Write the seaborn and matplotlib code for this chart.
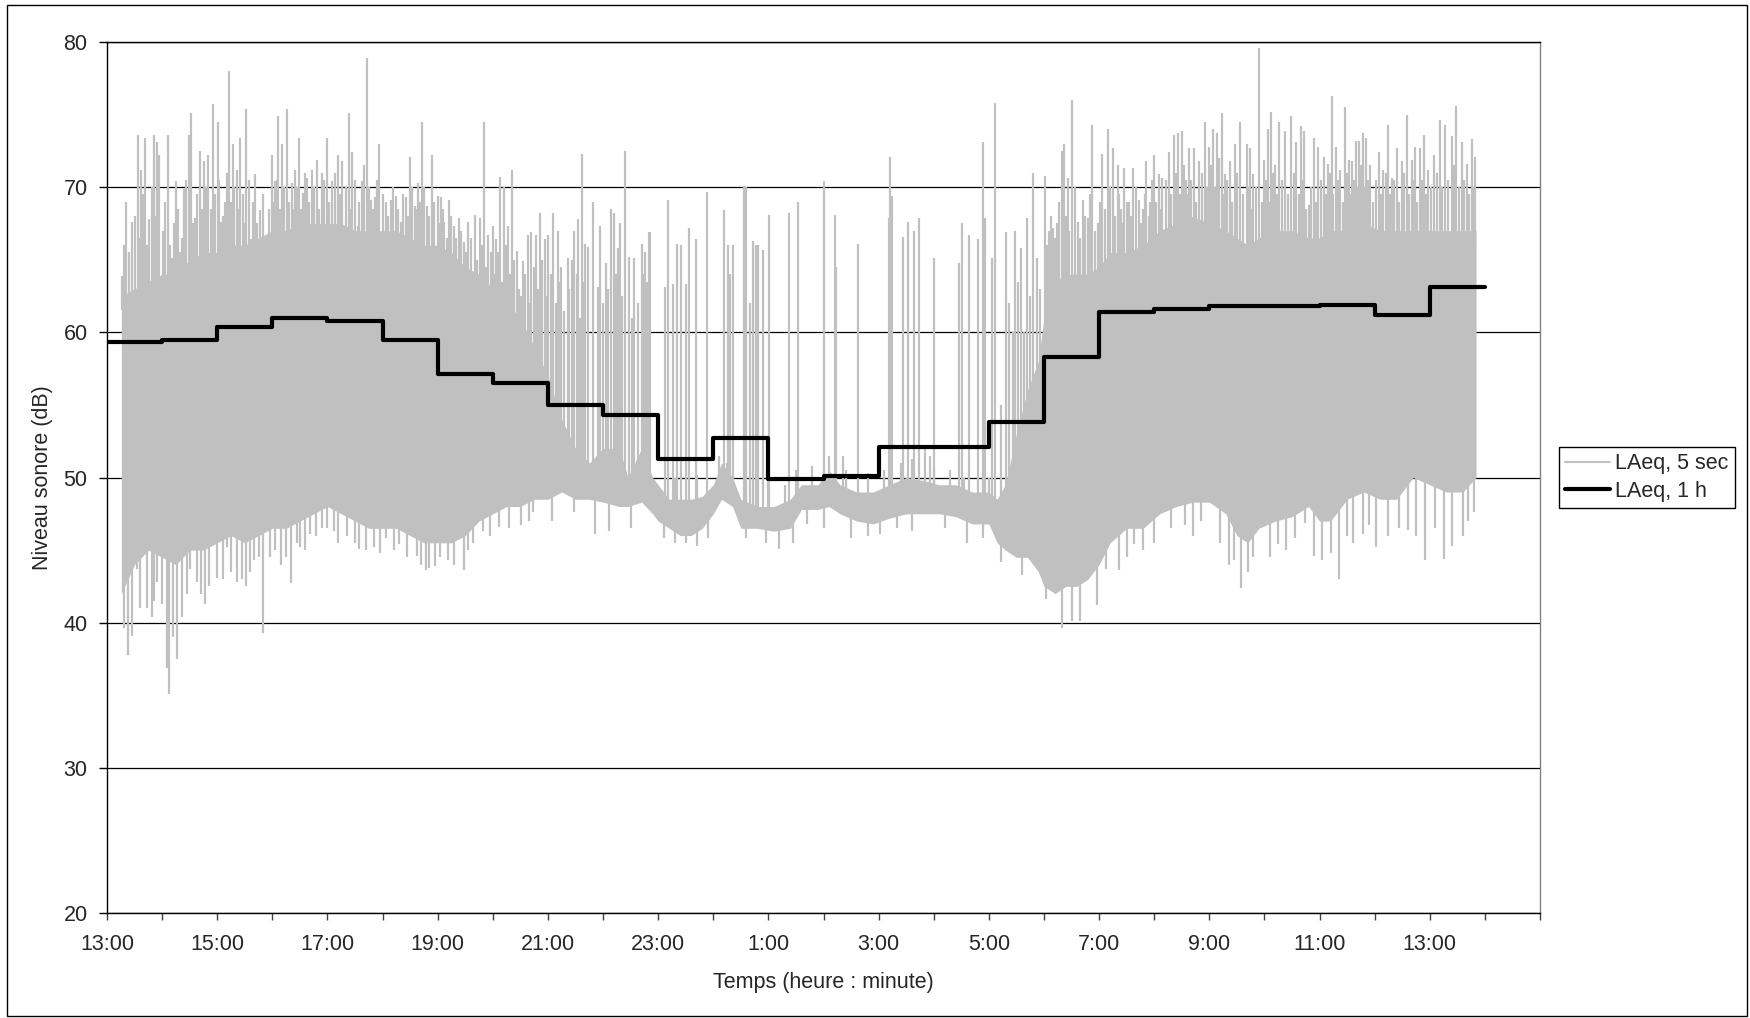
import numpy as np
import matplotlib.pyplot as plt
from matplotlib.lines import Line2D
from matplotlib.patches import Rectangle
import seaborn as sns

# ---------------------------------------------------------------
# Data (hours counted from 13:00 on day one)
# ---------------------------------------------------------------

# LAeq over 1 h, one value per hour starting 13:00
hour_start = list(range(25))
laeq_1h = [59.3, 59.5, 60.4, 61.0, 60.8, 59.5, 57.1, 56.5, 55.0, 54.3,
           51.3, 52.7, 49.9, 50.1, 52.1, 52.1, 53.8, 58.3, 61.4, 61.6,
           61.8, 61.8, 61.9, 61.2, 63.1]

# LAeq over 5 s: dense body of the trace (upper / lower edge)
body_t = [0.26, 0.5, 0.75, 1.0, 1.25, 1.5, 1.75, 2.0, 2.25, 2.5, 2.75, 3.0, 3.25, 3.5, 3.75, 4.0, 4.25,
          4.5, 4.75, 5.0, 5.25, 5.5, 5.75, 6.0, 6.25, 6.5, 6.75, 7.0, 7.25, 7.5, 7.75, 8.0, 8.25, 8.5, 8.75,
          9.0, 9.3, 9.45, 9.7, 9.9, 10.0, 10.2, 10.4, 10.6, 10.8, 11.0, 11.15, 11.35, 11.5, 11.8,
          12.1, 12.4, 12.6, 12.9, 13.1, 13.3, 13.6, 13.9, 14.2, 14.5, 14.8, 15.1, 15.4, 15.7,
          16.0, 16.15, 16.3, 16.5, 16.7, 16.9, 17.0, 17.2, 17.4, 17.6, 17.8, 18.0, 18.2, 18.5, 18.8,
          19.1, 19.4, 19.7, 20.0, 20.3, 20.5, 20.7, 20.9, 21.2, 21.5, 21.8, 22.0, 22.2, 22.5, 22.8,
          23.1, 23.4, 23.7, 24.0, 24.3, 24.6, 24.84]
body_hi = [62.5, 63, 63.5, 64, 64, 65, 65.5, 65.5, 66, 66, 66.5, 67, 67, 67.5, 67.5, 67.5, 67.5,
           67, 67, 67, 67, 66.5, 66, 66, 65.5, 64.5, 64, 63, 62, 61, 59, 57, 54, 52, 51,
           52, 52, 50, 52, 50, 49.5, 48.5, 48.5, 48.5, 48.7, 49.5, 51, 50, 48.5, 48,
           48, 48.5, 49.5, 49.5, 50.5, 49.5, 49, 49, 49.5, 50, 49.8, 49.5, 49.5, 49,
           49, 48.5, 49.5, 53, 56, 58, 61, 63.5, 64, 64, 64, 64.5, 65.5, 65.5, 66,
           67, 67.5, 68, 67.5, 67, 66.5, 66, 66.5, 67, 67, 66.5, 66.5, 67, 67, 67.5,
           67, 67, 67, 67, 67, 67, 67]
body_lo = [42, 44, 45, 44.5, 44, 45, 45, 45.5, 46, 45.5, 46, 46.5, 46.5, 47, 47.5, 48, 47.5,
           47, 46.5, 46.5, 46.5, 46, 45.5, 45.5, 45.5, 46, 47, 47.5, 48, 48, 48.5, 48.5, 49, 48.5, 48.5,
           48.3, 48, 48, 48.3, 47.5, 47, 46.5, 46, 46, 46.5, 47.5, 48.5, 48, 46.5, 46.5,
           46.3, 46.5, 47.8, 47.8, 48, 47.5, 47, 46.8, 47.2, 47.5, 47.5, 47.5, 47.3, 46.8,
           46.8, 45.5, 45, 44.5, 44.5, 43.5, 42.5, 42, 42.5, 42.5, 43, 44, 45.5, 46.5, 46.5,
           47.5, 48, 48.3, 48.3, 47.5, 46, 45.5, 46.5, 47, 47.3, 48, 47, 47, 48.5, 49,
           48.5, 48.5, 50, 49.5, 49, 49, 50]

# LAeq over 5 s: tall individual peaks
peak_t = [0.28, 0.35, 0.46, 0.57, 0.61, 0.69, 0.77, 0.85, 0.90, 0.95, 1.10, 1.18, 1.25, 1.33, 1.40,
          1.48, 1.53, 1.60, 1.69, 1.76, 1.84, 1.92, 2.01, 2.07, 2.15, 2.22, 2.28, 2.35, 2.41, 2.53,
          2.61, 2.69, 2.78, 2.89, 2.99, 3.05, 3.10, 3.18, 3.27, 3.36, 3.42, 3.48, 3.56, 3.63, 3.72,
          3.81, 3.90, 3.99, 4.08, 4.19, 4.27, 4.39, 4.45, 4.55, 4.62, 4.71, 4.79, 4.87, 4.94, 5.06,
          5.15, 5.24, 5.33, 5.42, 5.50, 5.58, 5.64, 5.72, 5.80, 5.89, 6.00, 6.06, 6.12, 6.21, 6.30,
          6.39, 6.48, 6.55, 6.67, 6.76, 6.84, 6.91, 7.00, 7.06, 7.13, 7.21, 7.27, 7.35, 7.43, 7.55,
          7.64, 7.70, 7.79, 7.85, 7.94, 8.00, 8.10, 8.18, 8.24, 8.36, 8.43, 8.48, 8.55, 8.61, 8.68,
          8.72, 8.81, 8.91, 8.95, 9.00, 9.05, 9.09, 9.14, 9.20, 9.24, 9.27, 9.31, 9.35, 9.40, 9.48,
          9.52, 9.56, 9.64, 9.71, 9.74, 9.77, 9.80, 9.83, 9.86, 10.12, 10.17, 10.27, 10.35, 10.42, 10.51,
          10.56, 10.69, 10.89, 11.19, 11.27, 11.31, 11.36, 11.55, 11.59, 11.66, 11.72, 11.77, 11.82, 11.90, 12.01,
          12.38, 12.54, 13.01, 13.20, 13.23, 13.35, 13.62, 14.18, 14.21, 14.25, 14.45, 14.54, 14.64, 14.73, 14.85,
          14.93, 15.01, 15.46, 15.52, 15.64, 15.81, 15.90, 15.93, 16.06, 16.12, 16.22, 16.31, 16.36, 16.43, 16.47,
          16.52, 16.59, 16.63, 16.69, 16.75, 16.81, 16.88, 16.93, 17.02, 17.10, 17.16, 17.23, 17.33, 17.37, 17.43,
          17.50, 17.62, 17.70, 17.80, 17.87, 17.98, 18.06, 18.16, 18.25, 18.34, 18.40, 18.46, 18.54, 18.62, 18.73,
          18.80, 18.86, 18.93, 19.00, 19.08, 19.15, 19.27, 19.36, 19.44, 19.51, 19.57, 19.63, 19.72, 19.81, 19.92,
          19.99, 20.07, 20.14, 20.23, 20.29, 20.38, 20.47, 20.56, 20.68, 20.74, 20.80, 20.91, 21.00, 21.06, 21.12,
          21.19, 21.26, 21.37, 21.49, 21.58, 21.66, 21.72, 21.80, 21.90, 21.98, 22.08, 22.16, 22.22, 22.29, 22.38,
          22.47, 22.53, 22.59, 22.66, 22.72, 22.79, 22.85, 22.92, 23.07, 23.16, 23.24, 23.31, 23.40, 23.49, 23.58,
          23.67, 23.73, 23.82, 23.90, 23.97, 24.07, 24.19, 24.27, 24.40, 24.48, 24.58, 24.68, 24.77, 24.82]
peak_db = [63.9, 69.0, 67.6, 73.6, 71.2, 73.4, 67.8, 73.6, 73.1, 72.2, 73.6, 65.1, 70.4, 65.5, 69.9,
           73.6, 75.1, 67.9, 72.5, 71.8, 72.2, 75.7, 74.5, 67.6, 69.0, 78.0, 73.0, 71.2, 73.4, 75.4,
           66.4, 70.9, 68.4, 66.5, 72.2, 70.4, 74.9, 73.0, 75.4, 70.3, 71.2, 73.4, 69.6, 70.6, 71.2,
           71.9, 71.0, 73.4, 70.4, 72.2, 71.8, 75.1, 72.4, 67.3, 70.4, 78.9, 69.1, 69.3, 73.0, 69.0,
           69.1, 69.4, 67.6, 69.3, 72.1, 68.7, 70.3, 74.5, 68.7, 72.2, 69.4, 69.3, 67.6, 69.1, 67.3,
           67.9, 66.2, 67.6, 68.1, 67.9, 74.5, 66.7, 67.3, 66.4, 70.7, 70.0, 67.3, 71.2, 65.6, 64.9,
           66.7, 66.9, 66.7, 68.2, 66.4, 66.7, 68.2, 67.0, 64.5, 65.1, 65.0, 67.0, 67.8, 72.3, 66.1,
           65.9, 69.0, 63.1, 67.3, 62.0, 64.8, 63.0, 68.5, 68.2, 64.0, 65.8, 67.5, 62.5, 72.5, 65.2,
           61.0, 65.1, 62.0, 66.1, 64.0, 65.5, 63.5, 66.9, 66.9, 63.1, 69.1, 63.3, 66.1, 66.0, 63.3,
           67.2, 66.4, 69.7, 68.4, 66.0, 64.0, 66.0, 70.1, 70.0, 62.0, 66.3, 66.0, 66.0, 65.7, 68.1,
           68.2, 69.0, 70.4, 68.1, 64.5, 51.5, 66.1, 67.9, 72.1, 69.4, 66.6, 67.6, 67.0, 67.9, 52.0,
           51.5, 65.1, 64.8, 67.5, 66.7, 66.4, 73.1, 67.9, 65.1, 75.8, 55.0, 66.9, 62.0, 60.0, 67.0,
           63.5, 65.8, 60.0, 67.9, 62.5, 71.0, 65.1, 63.0, 70.8, 67.0, 67.2, 67.5, 72.5, 73.0, 70.6,
           76.0, 67.6, 69.1, 67.9, 74.3, 67.5, 72.3, 74.0, 72.7, 71.5, 68.5, 71.3, 69.0, 71.3, 69.1,
           68.5, 71.8, 69.0, 72.2, 70.9, 70.6, 72.4, 73.6, 73.7, 73.9, 70.5, 72.7, 72.7, 71.8, 74.5,
           72.8, 74.0, 73.7, 75.1, 70.9, 71.8, 73.0, 74.5, 73.0, 72.7, 70.9, 79.6, 71.9, 74.0, 75.2,
           71.5, 74.5, 73.9, 74.9, 73.1, 74.2, 73.9, 68.8, 73.4, 72.8, 72.1, 71.6, 76.3, 72.8, 71.2,
           75.5, 71.9, 71.8, 73.2, 73.2, 73.7, 73.4, 71.5, 72.4, 71.2, 74.3, 70.6, 72.7, 71.8, 75.0,
           71.9, 72.8, 72.7, 73.6, 71.2, 72.2, 74.6, 74.3, 73.5, 75.6, 73.1, 71.6, 73.3, 72.1]

# LAeq over 5 s: shorter peaks (the "hair" above the dense body, small bumps at night)
hair_t = [0.31, 0.40, 0.51, 0.59, 0.65, 0.73, 0.81, 0.87, 0.93, 1.02, 1.06, 1.14, 1.21, 1.29, 1.36,
          1.44, 1.51, 1.56, 1.64, 1.72, 1.80, 1.88, 1.96, 2.04, 2.11, 2.18, 2.25, 2.31, 2.38, 2.46,
          2.50, 2.57, 2.65, 2.73, 2.83, 2.94, 3.02, 3.08, 3.14, 3.22, 3.31, 3.39, 3.45, 3.52, 3.59,
          3.67, 3.76, 3.85, 3.94, 4.03, 4.13, 4.23, 4.33, 4.42, 4.50, 4.58, 4.66, 4.75, 4.83, 4.90,
          5.00, 5.10, 5.19, 5.28, 5.37, 5.46, 5.54, 5.61, 5.68, 5.76, 5.85, 5.94, 6.03, 6.09, 6.16,
          6.25, 6.34, 6.43, 6.51, 6.60, 6.71, 6.80, 6.88, 6.96, 7.03, 7.10, 7.17, 7.24, 7.31, 7.39,
          7.48, 7.51, 7.59, 7.67, 7.74, 7.82, 7.89, 7.97, 8.05, 8.14, 8.21, 8.30, 8.39, 8.45, 8.52,
          8.58, 8.64,
          10.30, 10.70, 11.10, 11.25, 11.60, 12.00, 12.30, 12.50, 12.80, 13.10, 13.40, 13.80, 14.10, 14.40, 14.60,
          15.00, 15.30, 15.55, 15.90, 16.00,
          17.06, 17.13, 17.20, 17.28, 17.40, 17.46, 17.56, 17.66, 17.75, 17.84, 17.92, 18.02, 18.11, 18.20, 18.29,
          18.37, 18.43, 18.50, 18.58, 18.67, 18.76, 18.83, 18.90, 18.96, 19.04, 19.11, 19.21, 19.31, 19.40, 19.47,
          19.54, 19.60, 19.67, 19.76, 19.86, 19.95, 20.03, 20.10, 20.18, 20.26, 20.33, 20.42, 20.51, 20.62, 20.71,
          20.77, 20.85, 20.95, 21.03, 21.09, 21.16, 21.22, 21.31, 21.43, 21.54, 21.62, 21.69, 21.76, 21.85, 21.94,
          22.03, 22.12, 22.19, 22.25, 22.33, 22.42, 22.50, 22.56, 22.62, 22.69, 22.75, 22.82, 22.88, 22.97, 23.02,
          23.11, 23.20, 23.27, 23.35, 23.44, 23.53, 23.62, 23.70, 23.77, 23.86, 23.93, 24.02, 24.13, 24.23, 24.33,
          24.44, 24.53, 24.63, 24.72, 24.80]
hair_db = [66.0, 65.5, 68.0, 66.5, 69.5, 66.0, 70.0, 68.0, 66.5, 67.0, 69.0, 66.0, 67.5, 68.5, 66.5,
           70.5, 68.0, 67.5, 69.5, 68.5, 70.0, 68.5, 69.5, 70.5, 68.0, 71.0, 69.0, 70.0, 68.5, 69.5,
           67.5, 70.5, 69.0, 67.5, 69.5, 68.5, 69.0, 70.5, 68.5, 70.0, 69.0, 68.5, 70.0, 68.5, 71.0,
           69.0, 70.0, 68.5, 70.5, 69.0, 71.0, 69.5, 70.0, 68.5, 70.5, 69.0, 71.5, 70.0, 68.5, 70.5,
           69.5, 68.0, 70.0, 68.5, 69.5, 68.0, 70.0, 68.5, 69.0, 70.0, 68.0, 69.0, 67.5, 68.5, 66.5,
           68.0, 66.5, 67.0, 65.5, 66.5, 65.0, 66.0, 64.5, 65.5, 64.0, 65.5, 63.5, 66.0, 64.0, 65.0,
           63.0, 62.5, 64.0, 62.0, 64.5, 63.0, 65.0, 62.5, 64.0, 62.0, 63.5, 61.5, 63.0, 62.0, 64.0,
           61.0, 63.5,
           50.0, 50.2, 51.5, 51.0, 49.5, 49.8, 49.5, 50.5, 50.8, 51.5, 50.5, 50.3, 50.5, 51.0, 51.3,
           50.5, 50.5, 50.0, 49.8, 50.0,
           66.0, 68.0, 66.5, 69.0, 68.0, 67.0, 70.0, 66.5, 68.0, 69.5, 67.0, 69.0, 68.5, 70.0, 68.0,
           69.5, 67.5, 69.0, 68.0, 70.0, 67.5, 69.5, 68.0, 70.5, 69.0, 68.5, 70.5, 69.5, 71.0, 69.5,
           71.5, 69.5, 70.5, 69.0, 71.0, 70.0, 71.5, 70.0, 72.0, 69.5, 70.5, 69.0, 71.0, 69.5, 70.0,
           68.5, 70.0, 69.0, 70.5, 69.0, 71.0, 69.5, 70.5, 69.5, 71.0, 69.5, 70.5, 68.5, 70.0, 69.0,
           70.5, 69.5, 71.0, 69.5, 70.5, 69.0, 71.0, 69.5, 70.5, 70.0, 71.5, 70.0, 70.5, 69.0, 70.5,
           69.5, 71.0, 69.5, 70.5, 69.0, 71.0, 69.5, 70.5, 69.0, 70.5, 69.5, 70.0, 71.0, 70.0, 70.5,
           71.5, 70.0, 70.5, 69.5, 70.0]

# LAeq over 5 s: individual dips below the body
dip_t = [0.30, 0.39, 0.45, 0.55, 0.60, 0.72, 0.81, 0.85, 0.90, 0.99, 1.08, 1.13, 1.19, 1.27, 1.36,
         1.45, 1.51, 1.63, 1.70, 1.78, 1.85, 1.99, 2.10, 2.18, 2.25, 2.35, 2.45, 2.52, 2.60, 2.66,
         2.75, 2.83, 2.95, 3.05, 3.15, 3.25, 3.33, 3.45, 3.51, 3.60, 3.69, 3.80, 3.90, 4.00, 4.12,
         4.20, 4.36, 4.50, 4.58, 4.70, 4.85, 4.95, 5.06, 5.20, 5.30, 5.45, 5.62, 5.70, 5.79, 5.85,
         5.95, 6.05, 6.19, 6.30, 6.48, 6.55, 6.64, 6.82, 6.95, 7.12, 7.30, 7.52, 7.65, 7.73, 8.07,
         8.48, 8.85, 9.10, 9.50, 10.10, 10.30, 10.50, 10.70, 10.90, 11.60, 11.95, 12.20, 12.45, 12.70, 13.00,
         13.50, 13.80, 14.03, 14.33, 14.60, 15.20, 15.60, 15.90, 16.22, 16.60, 17.03, 17.33, 17.51, 17.65, 17.96,
         18.13, 18.36, 18.50, 18.64, 18.80, 19.00, 19.30, 19.56, 19.70, 19.85, 20.20, 20.35, 20.44, 20.58, 20.70,
         20.80, 21.11, 21.25, 21.40, 21.55, 21.73, 21.90, 22.05, 22.20, 22.36, 22.50, 22.60, 22.78, 22.89, 23.02,
         23.25, 23.45, 23.61, 23.75, 23.91, 24.10, 24.25, 24.41, 24.60, 24.70, 24.81]
dip_db = [39.6, 37.8, 39.1, 43.7, 41.0, 41.0, 40.4, 41.5, 42.8, 41.3, 36.9, 35.1, 39.0, 37.5, 40.4,
          42.0, 43.7, 42.8, 42.0, 41.3, 42.5, 43.1, 43.0, 45.2, 43.5, 42.8, 43.0, 42.5, 43.5, 44.3,
          44.5, 39.3, 44.5, 45.0, 44.0, 44.5, 42.7, 45.5, 45.2, 45.0, 46.1, 46.0, 46.5, 46.5, 46.3,
          45.5, 46.0, 45.5, 45.1, 45.0, 45.2, 44.8, 45.8, 45.0, 45.4, 44.5, 44.6, 44.0, 43.6, 43.8,
          43.9, 44.5, 44.3, 44.0, 43.6, 45.0, 45.5, 46.3, 46.0, 46.6, 46.5, 46.7, 47.0, 47.6, 47.0,
          47.6, 46.1, 46.3, 46.5, 45.8, 45.5, 45.5, 45.3, 45.8, 45.8, 45.5, 45.1, 45.5, 46.8, 46.5,
          45.8, 46.0, 46.1, 46.5, 46.3, 46.5, 45.5, 45.8, 44.2, 43.3, 41.6, 39.6, 40.1, 40.1, 41.2,
          43.7, 43.6, 44.5, 45.4, 45.0, 45.5, 46.5, 46.7, 46.0, 47.0, 45.5, 44.0, 44.3, 42.4, 43.5,
          44.5, 44.5, 45.4, 45.0, 45.8, 46.9, 44.6, 44.3, 44.8, 43.0, 46.0, 45.5, 46.1, 46.7, 45.2,
          46.0, 46.5, 46.4, 46.0, 44.3, 46.5, 44.4, 45.3, 46.0, 47.0, 47.6]

# axis ticks
y_ticks = [20, 30, 40, 50, 60, 70, 80]
x_label_pos = list(range(0, 25, 2))
x_labels = ["13:00", "15:00", "17:00", "19:00", "21:00", "23:00", "1:00",
            "3:00", "5:00", "7:00", "9:00", "11:00", "13:00"]

assert len(body_t) == len(body_hi) == len(body_lo)
assert len(peak_t) == len(peak_db)
assert len(hair_t) == len(hair_db)
assert len(dip_t) == len(dip_db)

# ---------------------------------------------------------------
# Style
# ---------------------------------------------------------------
sns.set_style("white")
plt.rcParams["font.family"] = ["Liberation Sans", "DejaVu Sans"]
GREY = "#c0c0c0"
FS = 15.5

W, H = 1750, 1018
fig = plt.figure(figsize=(W / 100, H / 100), dpi=100)
ax = fig.add_axes([107 / W, 1 - 913 / H, (1540 - 107) / W, (913 - 42) / H])

# 5 s trace: dense body, then spikes rooted inside the body
ax.fill_between(body_t, body_lo, body_hi, color=GREY, linewidth=0, zorder=2)
up_t = peak_t + hair_t
up_db = peak_db + hair_db
up_root = np.interp(up_t, body_t, body_hi) - 1
ax.vlines(up_t, up_root, up_db, color=GREY, linewidth=1.6, zorder=2)
dip_root = np.interp(dip_t, body_t, body_lo) + 1
ax.vlines(dip_t, dip_db, dip_root, color=GREY, linewidth=1.6, zorder=2)

# 1 h steps
step_x = hour_start + [hour_start[-1] + 1]
step_y = laeq_1h + [laeq_1h[-1]]
sns.lineplot(x=step_x, y=step_y, drawstyle="steps-post", color="black",
             linewidth=3, estimator=None, ax=ax, zorder=4)

# axes
ax.set_xlim(0, 26)
ax.set_ylim(20, 80)
ax.set_yticks(y_ticks)
ax.set_xticks(x_label_pos)
ax.set_xticklabels(x_labels)
ax.set_xticks(range(0, 27), minor=True)
ax.tick_params(axis="x", which="both", direction="out", length=5, width=1,
               color="#404040", pad=10, labelsize=FS, bottom=True)
ax.tick_params(axis="y", direction="out", length=6, width=1, color="black",
               pad=8, labelsize=FS, left=True)

ax.set_axisbelow(True)
ax.yaxis.grid(True, color="black", linewidth=0.9)
ax.xaxis.grid(False)

for side in ["left", "bottom", "top"]:
    ax.spines[side].set_color("black")
    ax.spines[side].set_linewidth(1)
ax.spines["right"].set_color("#808080")
ax.spines["right"].set_linewidth(1)

ax.set_ylabel("Niveau sonore (dB)", fontsize=FS)
ax.set_xlabel("Temps (heure : minute)", fontsize=FS, va="top")
ax.yaxis.set_label_coords((53 - 107) / 1433, 0.5)
ax.xaxis.set_label_coords(0.5, -(972 - 913) / 871)

# legend
handles = [Line2D([], [], color=GREY, linewidth=1.5),
           Line2D([], [], color="black", linewidth=3)]
leg = fig.legend(handles, ["LAeq, 5 sec", "LAeq, 1 h"],
                 loc="center left", bbox_to_anchor=(1559 / W, 1 - 477.5 / H),
                 frameon=True, fancybox=False, edgecolor="black", framealpha=1,
                 fontsize=FS, handlelength=2.05, handletextpad=0.25,
                 borderpad=0.3, labelspacing=0.3, borderaxespad=0)
leg.get_frame().set_linewidth(1)

# outer chart border
fig.patches.append(Rectangle((7 / W, 2 / H), 1740 / W, 1011 / H,
                             transform=fig.transFigure, fill=False,
                             edgecolor="black", linewidth=1))

fig.savefig("out.png", dpi=100)
